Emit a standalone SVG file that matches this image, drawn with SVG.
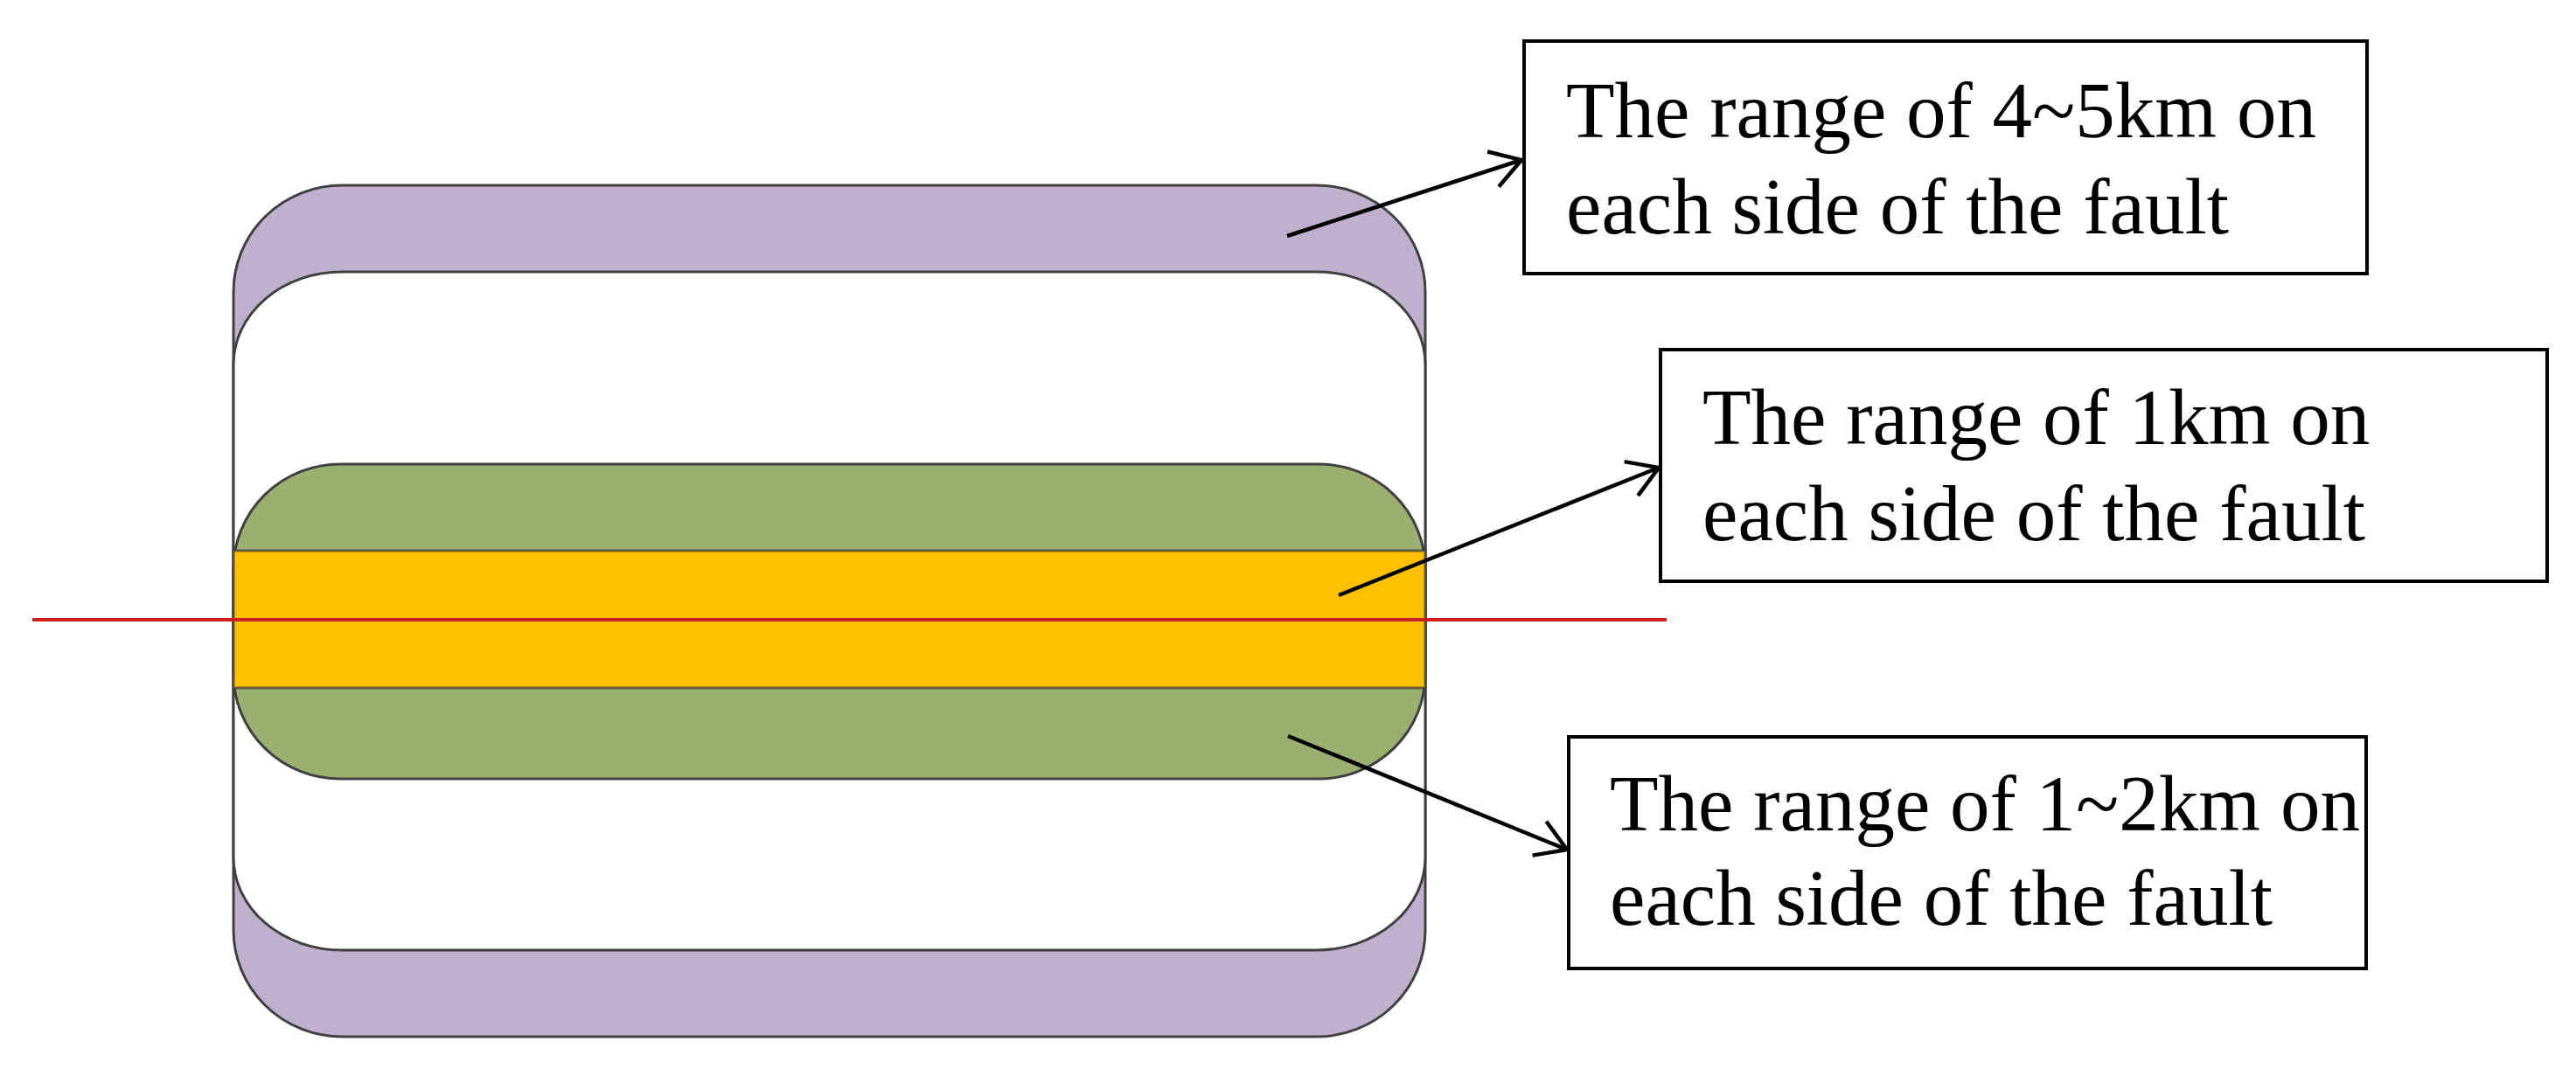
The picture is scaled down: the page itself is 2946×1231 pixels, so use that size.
<svg xmlns="http://www.w3.org/2000/svg" width="2946" height="1231" viewBox="0 0 2946 1231">
<style>
.zone{stroke:#404040;stroke-width:3}
.box{fill:#fff;stroke:#000;stroke-width:4}
.lbl{font-family:"Liberation Serif","Times New Roman",serif;font-size:91px;fill:#000}
.arr{stroke:#000;stroke-width:4.5;fill:none;marker-end:url(#head)}
</style>
<defs>
<marker id="head" viewBox="0 0 42 46" refX="38" refY="23" markerWidth="42" markerHeight="46" markerUnits="userSpaceOnUse" orient="auto">
<path d="M4,2 L38,23 L4,44" fill="none" stroke="#000" stroke-width="4.5"/>
</marker>
</defs>
<rect width="2946" height="1231" fill="#fff"/>
<g id="zone-4-5km">
<rect class="zone" x="267" y="212" width="1363" height="974" rx="124" ry="122" fill="#BFB1CD"/>
<rect class="zone" x="267" y="311" width="1363" height="776" rx="124" ry="106" fill="#fff"/>
</g>
<g id="zone-1-2km">
<rect class="zone" x="267" y="531" width="1363" height="360" rx="122" ry="120" fill="#9BB070"/>
</g>
<g id="zone-1km">
<rect x="267" y="630" width="1363" height="157" fill="#FFC000" stroke="#404040" stroke-width="3" stroke-opacity="0.75"/>
</g>
<g id="fault">
<line x1="37" y1="709" x2="1906" y2="709" stroke="#CC2020" stroke-width="4"/>
</g>
<g id="label-4-5km">
<rect class="box" x="1743" y="47" width="964" height="266"/>
<text class="lbl" x="1791" y="157">The range of 4~5km on</text>
<text class="lbl" x="1791" y="267">each side of the fault</text>
</g>
<g id="label-1km">
<rect class="box" x="1899" y="400" width="1014" height="265"/>
<text class="lbl" x="1947" y="508">The range of 1km on</text>
<text class="lbl" x="1947" y="618">each side of the fault</text>
</g>
<g id="label-1-2km">
<rect class="box" x="1794" y="843" width="912" height="265"/>
<text class="lbl" x="1841" y="950">The range of 1~2km on</text>
<text class="lbl" x="1841" y="1058">each side of the fault</text>
</g>
<g id="connectors">
<line class="arr" x1="1472" y1="270" x2="1740" y2="183"/>
<line class="arr" x1="1531" y1="681" x2="1897" y2="535"/>
<line class="arr" x1="1473" y1="842" x2="1792" y2="972"/>
</g>
</svg>
